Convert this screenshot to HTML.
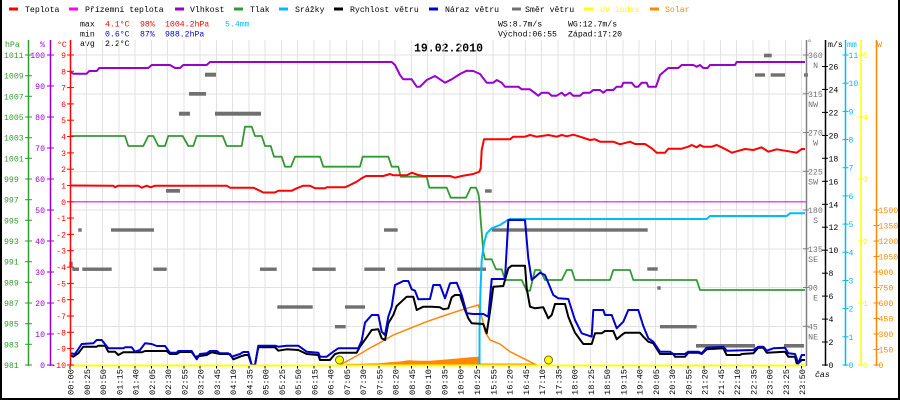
<!DOCTYPE html>
<html><head><meta charset="utf-8"><style>
html,body{margin:0;padding:0;background:#fff;}
svg{display:block;}
.t{font-family:"Liberation Mono","DejaVu Sans Mono",monospace;font-size:8.2px;}
</style></head><body>
<svg width="900" height="400" viewBox="0 0 900 400" xmlns="http://www.w3.org/2000/svg">
<rect x="0" y="0" width="900" height="400" fill="#fff"/>
<!-- border -->
<rect x="0" y="0" width="2" height="400" fill="#000"/>
<rect x="898" y="0" width="2" height="400" fill="#000"/>
<rect x="0" y="398" width="900" height="2" fill="#000"/>

<!-- legend -->
<g class="t">
<rect x="9" y="7.5" width="9" height="3" fill="#f00"/><text x="25" y="12">Teplota</text>
<rect x="69" y="7.5" width="9" height="3" fill="#f0f"/><text x="85" y="12">Přízemní teplota</text>
<rect x="175" y="7.5" width="9" height="3" fill="#9900cc"/><text x="190" y="12">Vlhkost</text>
<rect x="234" y="7.5" width="9" height="3" fill="#339933"/><text x="250" y="12">Tlak</text>
<rect x="279" y="7.5" width="9" height="3" fill="#00bbff"/><text x="295" y="12">Srážky</text>
<rect x="334" y="7.5" width="9" height="3" fill="#000"/><text x="350" y="12">Rychlost větru</text>
<rect x="429" y="7.5" width="9" height="3" fill="#0000cc"/><text x="445" y="12">Náraz větru</text>
<rect x="512" y="7.5" width="9" height="3" fill="#707070"/><text x="525" y="12">Směr větru</text>
<rect x="584" y="7.5" width="9" height="3" fill="#ffff00"/><text x="600" y="12" fill="#ffff00">UV index</text>
<rect x="650" y="7.5" width="9" height="3" fill="#ff8800"/><text x="665" y="12" fill="#ff8800">Solar</text>
</g>

<!-- stats -->
<g class="t">
<text x="80" y="26.5">max</text>
<text x="105" y="26.5" fill="#f00">4.1°C</text>
<text x="140" y="26.5" fill="#f00">98%</text>
<text x="165" y="26.5" fill="#f00">1004.2hPa</text>
<text x="225" y="26.5" fill="#00bbff">5.4mm</text>
<text x="80" y="36.5">min</text>
<text x="105" y="36.5" fill="#0000cc">0.6°C</text>
<text x="140" y="36.5" fill="#0000cc">87%</text>
<text x="165" y="36.5" fill="#0000cc">988.2hPa</text>
<text x="80" y="46">avg</text>
<text x="105" y="46">2.2°C</text>
<text x="498" y="26.5">WS:8.7m/s</text>
<text x="568" y="26.5">WG:12.7m/s</text>
<text x="498" y="36.5">Východ:06:55</text>
<text x="568" y="36.5">Západ:17:20</text>
</g>
<text x="414" y="51.5" font-family="Liberation Mono, monospace" font-size="12" font-weight="bold" textLength="69" lengthAdjust="spacingAndGlyphs">19.02.2010</text>

<!-- grid -->
<g stroke="#e2e2e2" stroke-width="1" shape-rendering="crispEdges">
<line x1="86.26" y1="40" x2="86.26" y2="365"/><line x1="102.52" y1="40" x2="102.52" y2="365"/><line x1="118.78" y1="40" x2="118.78" y2="365"/><line x1="135.04" y1="40" x2="135.04" y2="365"/><line x1="151.3" y1="40" x2="151.3" y2="365"/><line x1="167.56" y1="40" x2="167.56" y2="365"/><line x1="183.82" y1="40" x2="183.82" y2="365"/><line x1="200.08" y1="40" x2="200.08" y2="365"/><line x1="216.34" y1="40" x2="216.34" y2="365"/><line x1="232.6" y1="40" x2="232.6" y2="365"/><line x1="248.86" y1="40" x2="248.86" y2="365"/><line x1="265.12" y1="40" x2="265.12" y2="365"/><line x1="281.38" y1="40" x2="281.38" y2="365"/><line x1="297.64" y1="40" x2="297.64" y2="365"/><line x1="313.9" y1="40" x2="313.9" y2="365"/><line x1="330.16" y1="40" x2="330.16" y2="365"/><line x1="346.42" y1="40" x2="346.42" y2="365"/><line x1="362.68" y1="40" x2="362.68" y2="365"/><line x1="378.94" y1="40" x2="378.94" y2="365"/><line x1="395.2" y1="40" x2="395.2" y2="365"/><line x1="411.46" y1="40" x2="411.46" y2="365"/><line x1="427.72" y1="40" x2="427.72" y2="365"/><line x1="443.98" y1="40" x2="443.98" y2="365"/><line x1="460.24" y1="40" x2="460.24" y2="365"/><line x1="476.5" y1="40" x2="476.5" y2="365"/><line x1="492.76" y1="40" x2="492.76" y2="365"/><line x1="509.02" y1="40" x2="509.02" y2="365"/><line x1="525.28" y1="40" x2="525.28" y2="365"/><line x1="541.54" y1="40" x2="541.54" y2="365"/><line x1="557.8" y1="40" x2="557.8" y2="365"/><line x1="574.06" y1="40" x2="574.06" y2="365"/><line x1="590.32" y1="40" x2="590.32" y2="365"/><line x1="606.58" y1="40" x2="606.58" y2="365"/><line x1="622.84" y1="40" x2="622.84" y2="365"/><line x1="639.1" y1="40" x2="639.1" y2="365"/><line x1="655.36" y1="40" x2="655.36" y2="365"/><line x1="671.62" y1="40" x2="671.62" y2="365"/><line x1="687.88" y1="40" x2="687.88" y2="365"/><line x1="704.14" y1="40" x2="704.14" y2="365"/><line x1="720.4" y1="40" x2="720.4" y2="365"/><line x1="736.66" y1="40" x2="736.66" y2="365"/><line x1="752.92" y1="40" x2="752.92" y2="365"/><line x1="769.18" y1="40" x2="769.18" y2="365"/><line x1="785.44" y1="40" x2="785.44" y2="365"/><line x1="801.7" y1="40" x2="801.7" y2="365"/>
<line x1="70" y1="55" x2="806" y2="55"/><line x1="70" y1="93.75" x2="806" y2="93.75"/><line x1="70" y1="132.5" x2="806" y2="132.5"/><line x1="70" y1="171.25" x2="806" y2="171.25"/><line x1="70" y1="210" x2="806" y2="210"/><line x1="70" y1="248.75" x2="806" y2="248.75"/><line x1="70" y1="287.5" x2="806" y2="287.5"/><line x1="70" y1="326.25" x2="806" y2="326.25"/>
</g>

<!-- ground temp (magenta) -->
<line x1="70" y1="201.8" x2="806" y2="201.8" stroke="#ff00ff" stroke-width="1.2"/>

<!-- wind direction bars -->
<g fill="#707070">
<rect x="205" y="72.7" width="11" height="4"/>
<rect x="189" y="92" width="17" height="3.7"/>
<rect x="179" y="111.7" width="11" height="4"/>
<rect x="215" y="111.7" width="46" height="4"/>
<rect x="166" y="189" width="14" height="3.7"/>
<rect x="764" y="53.7" width="7.7" height="3.6"/>
<rect x="755" y="73.3" width="10" height="3.4"/>
<rect x="770.7" y="73.3" width="14.3" height="3.4"/>
<rect x="804" y="73.3" width="4" height="3.4"/>
<rect x="485" y="189.3" width="6.7" height="3.4"/>
<rect x="78.3" y="228.3" width="3.4" height="3.4"/>
<rect x="111" y="228.3" width="43" height="3.4"/>
<rect x="69.3" y="261.7" width="3.4" height="5"/>
<rect x="72.3" y="267.5" width="6.7" height="3.4"/>
<rect x="82.3" y="267.5" width="29.4" height="3.4"/>
<rect x="153.3" y="267.5" width="13.4" height="3.4"/>
<rect x="260" y="267.5" width="16.7" height="3.4"/>
<rect x="312.3" y="267.5" width="23.4" height="3.4"/>
<rect x="364.3" y="267.5" width="20.7" height="3.4"/>
<rect x="397.3" y="267.5" width="88.7" height="3.4"/>
<rect x="277.3" y="305.3" width="35.4" height="3.4"/>
<rect x="345" y="305.3" width="20" height="3.4"/>
<rect x="335" y="325" width="10.7" height="3.4"/>
<rect x="384" y="228.3" width="13.7" height="3.4"/>
<rect x="491.7" y="228.3" width="156" height="3.4"/>
<rect x="647.3" y="267.3" width="10.4" height="3.4"/>
<rect x="657.3" y="286.3" width="3.4" height="3.4"/>
<rect x="660" y="325" width="36.7" height="3.4"/>
<rect x="696" y="344" width="59" height="3.6"/>
<rect x="784" y="344" width="20" height="3.6"/>
</g>

<!-- solar fill -->
<polygon fill="#ff8800" points="343,365 346.7,364 380,363.3 386.7,362.5 400,361.5 408.3,360.3 420,360.7 430,360.7 440,360 460,358.3 470,357.3 478.3,356.7 480,356.7 480,363.5 533.3,363.5 536.7,365"/>
<!-- solar line -->
<polyline fill="none" stroke="#ff8800" stroke-width="1.5" points="340,365 350,359.5 360,354 370,348 380,342.7 393.3,335 410,328.3 426.7,321.7 440,317 463.3,309.3 478.3,305 480,310 483,322 485,331.7 490,340 500,344 510,351.7 520,356.7 530,361.7 536.7,365"/>

<!-- humidity -->
<polyline fill="none" stroke="#9900cc" stroke-width="2" stroke-linejoin="round" points="70,71.7 73.3,73.7 86.7,73.7 89.3,71 96.7,71 99.3,68 148.3,68 151.7,65 170,65 175,68 180,68 183.3,65 206.7,65 210,62 391.7,62 395,65 400,75 403.3,79.3 411.7,79.3 416.7,86.7 420,86.7 426.7,80 435,76 440,79.3 445,82.7 451.7,79.3 460,74 466.7,70.7 473.3,71 480,74 486.7,82.7 493.3,82.7 496.7,80 501.7,82.7 505,86.7 518.3,86.7 521.7,89.3 530,89.3 538.3,95.7 541.7,92.7 548.3,92.7 551.7,95.7 556.7,95.7 561.7,92.7 565,95.7 570,92.7 573.3,95.7 580,95.7 583.3,92.7 590,92.7 593.3,90 600,90 603.3,92.7 606.7,90 613.3,90 616.7,86.7 621.7,86.7 623.3,82.7 631.7,82.7 635,86.7 638.3,86.7 641.7,82.7 646.7,82.7 648.3,86.7 656,86.7 660,75 665,70.7 668.3,68 678.3,68 681.7,65 693.3,65 696.7,66.7 700,65 703.3,68 707.7,68 710,65 735,65 736.7,62 805,62"/>

<!-- pressure -->
<polyline fill="none" stroke="#339933" stroke-width="1.8" stroke-linejoin="round" points="70,136 125,136 128.3,146 143.3,146 148.3,136 153.3,136 158.3,146 165,146 168.3,136 182.7,136 188.3,146 193.3,146 196.7,136 222.7,136 226.7,146 241.7,146 245,126.7 251.7,126.7 255,136 261.7,136 265,146 270.7,146 274,156.7 281.7,156.7 285,166.7 291,166.7 295,156.7 320,156.7 323.3,166.7 360,166.7 362.7,156.7 388.3,156.7 391.7,166.7 398.3,166.7 400.7,176.7 426.7,176.7 429.3,187.7 446.7,187.7 450.7,197.7 466,197.7 470.7,187.7 476,187.7 478.3,193.3 479.3,200 480.7,220 483.3,251.7 485,259.3 491.7,259.3 496,269.3 501.7,269.3 505,280 521.7,280 526.7,290.7 530,290.7 535,270 540,270 545,280 561.7,280 566.7,270 571.7,270 575,280 610,280 613.3,270 630,270 633.3,280 696.7,280 700,290 805,290"/>

<!-- temperature -->
<polyline fill="none" stroke="#ff0000" stroke-width="2" stroke-linejoin="round" points="70,185.5 113.3,185.7 115,187.3 118.3,185.7 138.3,185.7 141.7,187.7 146.7,185.7 150.7,187.3 155,185.7 226.7,185.7 230,187.7 253.3,187.7 258.3,190 263.3,192.5 275,192.5 278.3,190.7 291.7,190.7 296.7,188.3 303.3,185.7 310,185.7 315,188.3 325,188.3 326.7,187.3 345,187.3 350,185 356.7,181.7 361.7,178.3 366,176 383.3,176 390,174 393.3,175.3 406.7,175.3 411.7,172.7 418.3,175 423.3,176 450,176 455,177.7 461.7,176 473.3,174 479.3,171.7 480.7,168.3 481.7,150 484,139.3 510,139.3 513.3,136.7 525,136.7 530,135 536.7,136.7 548.3,135 556.7,136.7 561.7,135 566.7,136.3 573.3,134.7 580,136.7 590,140 595,139.3 600,141.7 613.3,141.7 620,144.3 630,141.7 635,144 645,144 651.7,148.3 656.7,152.7 665,152.7 668.3,148.7 681.7,148.7 688.3,146.7 691.7,145 696.7,147.3 700,145 703.3,146.7 711.7,146.7 716.7,145 721.7,147.3 728.3,150.7 731.7,152.7 736.7,151.3 745,149 753.3,150 761.7,147.3 768.3,151.7 776.7,149.3 785,150.7 796.7,152.7 801.7,149 805,149"/>

<!-- precipitation -->
<polyline fill="none" stroke="#00bbff" stroke-width="2" stroke-linejoin="round" points="479.5,365 479.5,330 480.5,290 481.7,260 484,243.3 486.7,233.3 491.7,228.3 500,225 506.7,220.7 510,219 706.7,219 710,216 786.7,216 790,213.3 805,213.3"/>

<!-- wind speed -->
<polyline fill="none" stroke="#000" stroke-width="2" stroke-linejoin="round" points="70,355 73.3,356.7 78.3,353.3 83.3,346.7 96.7,346.7 98.3,345.7 105,345.7 108.3,351.7 115,351.7 118.3,355 123.3,352.3 141.7,352.3 145,351 166.7,351 170,354 176.7,354 180,352 191.7,352 195,356.7 206.7,355 211.7,352.3 220,354 230,354 233.3,359.3 240,356.7 245,355 248.3,355 251.7,365 255,365 258.3,347.3 275,347.3 278.3,350.7 286.7,349.3 298.3,350 306.7,354 318.3,355 320,360 330,360 335,354 340,352.7 356.7,352.7 360,346.7 366.7,337.3 371.7,330 378.3,329.3 381.7,338.3 385,340 388.3,323.3 393.3,315 396.7,306 406.7,296.7 413.3,296.7 416.7,310 423.3,306.7 431.7,306.7 440,307.3 443.3,309.3 448.3,308.3 451.7,297.3 455,295 460,295 465,310 468.3,318.3 471.7,323.3 483.3,324 486.7,333.3 490,311.7 493.3,286.7 503.3,286 508.3,268.3 511.7,265.7 525,265.7 526.7,288.3 530,306.7 535,308.3 543.3,307.3 548.3,318.3 551.7,315 555,304 565,304 568.3,316.7 575,332.7 583.3,344 591.7,344 595,333.3 601.7,333.3 605,331 613.3,331 616.7,339.3 621.7,335 625,332.7 640,332.7 643.3,336.7 648.3,341.7 653.3,343.3 660,354 673.3,354 675,356.7 685,356.7 688.3,352.7 698.3,352.7 701.7,354 706.7,349.3 723.3,348.3 726.7,355 740,355 741.7,354 753.3,353.3 758.3,347.7 763.3,347.7 766.7,352.7 785,351.7 788.3,356.7 795,356.7 796.7,363.3 798.3,363.3 801.7,360 805,360"/>

<!-- wind gust -->
<polyline fill="none" stroke="#0000cc" stroke-width="2" stroke-linejoin="round" points="70,353.3 75,354 81.7,344 93.3,343.3 96.7,340 101.7,340 108.3,348.3 123.3,348.3 125,347.3 131.7,347.3 135,351.7 140,350 145,343.3 151.7,344 156.7,346 165,346 170,352.7 176.7,352.7 178.3,351 191.7,351 195,356.7 196.7,359.3 200,354 206.7,353.3 210,351 216.7,351 220,353.3 228.3,353.3 231.7,356.7 240,354 243.3,352 248.3,352 251.7,365 255,365 258.3,345.7 275,345.7 278.3,346.7 286.7,345.7 298.3,345.7 306.7,351.7 318.3,352.7 320,356.7 326.7,356.7 333.3,351.7 338.3,348.3 358.3,348.3 361.7,340.7 365,322.7 371.7,315 378.3,315 381.7,331.7 385,335 388.3,316.7 391.7,306.7 395,285 400,282.7 403.3,281 408.3,281 411.7,289.3 415,290.7 418.3,299.3 430,299 433.3,285 440,285 445,298.3 450,283.3 456.7,282.7 461.7,295 466.7,313.3 473.3,314 483.3,314 488.3,316.7 491.7,279 505,279 508.3,220 525,220 528.3,258.3 531.7,280 540,272.7 545,275 553.3,295 558.3,298.3 568.3,299 575,320 581.7,333.3 591.7,336.7 593.3,310 603.3,310 605,315 611.7,315 616.7,328.3 623.3,321.7 628.3,310 638.3,310 643.3,326 648.3,338.3 653.3,341.7 660,351.7 670,351.7 673.3,354 685,354 688.3,351.7 698.3,351.7 701.7,353.3 706.7,347.7 723.3,346.7 726.7,350.7 753.3,350 758.3,346.7 763.3,346.7 766.7,350.7 773.3,348.3 785,347.7 788.3,353.3 795,354 798.3,363.3 801.7,355 805,355"/>

<!-- UV baseline -->
<line x1="70" y1="365.5" x2="806" y2="365.5" stroke="#ffff00" stroke-width="2"/>
<!-- sun markers -->
<circle cx="339.5" cy="360" r="4" fill="#ffff00" stroke="#6b6b00" stroke-width="1"/>
<circle cx="548.5" cy="360" r="4" fill="#ffff00" stroke="#6b6b00" stroke-width="1"/>

<!-- x ticks -->
<g stroke="#000" stroke-width="1" shape-rendering="crispEdges">
<line x1="70" y1="366" x2="70" y2="369"/><line x1="86.26" y1="366" x2="86.26" y2="368.5"/><line x1="102.52" y1="366" x2="102.52" y2="368.5"/><line x1="118.78" y1="366" x2="118.78" y2="368.5"/><line x1="135.04" y1="366" x2="135.04" y2="368.5"/><line x1="151.3" y1="366" x2="151.3" y2="368.5"/><line x1="167.56" y1="366" x2="167.56" y2="368.5"/><line x1="183.82" y1="366" x2="183.82" y2="368.5"/><line x1="200.08" y1="366" x2="200.08" y2="368.5"/><line x1="216.34" y1="366" x2="216.34" y2="368.5"/><line x1="232.6" y1="366" x2="232.6" y2="368.5"/><line x1="248.86" y1="366" x2="248.86" y2="368.5"/><line x1="265.12" y1="366" x2="265.12" y2="368.5"/><line x1="281.38" y1="366" x2="281.38" y2="368.5"/><line x1="297.64" y1="366" x2="297.64" y2="368.5"/><line x1="313.9" y1="366" x2="313.9" y2="368.5"/><line x1="330.16" y1="366" x2="330.16" y2="368.5"/><line x1="346.42" y1="366" x2="346.42" y2="368.5"/><line x1="362.68" y1="366" x2="362.68" y2="368.5"/><line x1="378.94" y1="366" x2="378.94" y2="368.5"/><line x1="395.2" y1="366" x2="395.2" y2="368.5"/><line x1="411.46" y1="366" x2="411.46" y2="368.5"/><line x1="427.72" y1="366" x2="427.72" y2="368.5"/><line x1="443.98" y1="366" x2="443.98" y2="368.5"/><line x1="460.24" y1="366" x2="460.24" y2="368.5"/><line x1="476.5" y1="366" x2="476.5" y2="368.5"/><line x1="492.76" y1="366" x2="492.76" y2="368.5"/><line x1="509.02" y1="366" x2="509.02" y2="368.5"/><line x1="525.28" y1="366" x2="525.28" y2="368.5"/><line x1="541.54" y1="366" x2="541.54" y2="368.5"/><line x1="557.8" y1="366" x2="557.8" y2="368.5"/><line x1="574.06" y1="366" x2="574.06" y2="368.5"/><line x1="590.32" y1="366" x2="590.32" y2="368.5"/><line x1="606.58" y1="366" x2="606.58" y2="368.5"/><line x1="622.84" y1="366" x2="622.84" y2="368.5"/><line x1="639.1" y1="366" x2="639.1" y2="368.5"/><line x1="655.36" y1="366" x2="655.36" y2="368.5"/><line x1="671.62" y1="366" x2="671.62" y2="368.5"/><line x1="687.88" y1="366" x2="687.88" y2="368.5"/><line x1="704.14" y1="366" x2="704.14" y2="368.5"/><line x1="720.4" y1="366" x2="720.4" y2="368.5"/><line x1="736.66" y1="366" x2="736.66" y2="368.5"/><line x1="752.92" y1="366" x2="752.92" y2="368.5"/><line x1="769.18" y1="366" x2="769.18" y2="368.5"/><line x1="785.44" y1="366" x2="785.44" y2="368.5"/><line x1="801.7" y1="366" x2="801.7" y2="368.5"/>
</g>

<!-- x labels -->
<g font-family="Liberation Mono, monospace" font-size="8.5" fill="#000">
<text transform="translate(73.5,395) rotate(-90)" textLength="26" lengthAdjust="spacingAndGlyphs">00:00</text>
<text transform="translate(89.76,395) rotate(-90)" textLength="26" lengthAdjust="spacingAndGlyphs">00:25</text>
<text transform="translate(106.02,395) rotate(-90)" textLength="26" lengthAdjust="spacingAndGlyphs">00:50</text>
<text transform="translate(122.28,395) rotate(-90)" textLength="26" lengthAdjust="spacingAndGlyphs">01:15</text>
<text transform="translate(138.54,395) rotate(-90)" textLength="26" lengthAdjust="spacingAndGlyphs">01:40</text>
<text transform="translate(154.8,395) rotate(-90)" textLength="26" lengthAdjust="spacingAndGlyphs">02:05</text>
<text transform="translate(171.06,395) rotate(-90)" textLength="26" lengthAdjust="spacingAndGlyphs">02:30</text>
<text transform="translate(187.32,395) rotate(-90)" textLength="26" lengthAdjust="spacingAndGlyphs">02:55</text>
<text transform="translate(203.58,395) rotate(-90)" textLength="26" lengthAdjust="spacingAndGlyphs">03:20</text>
<text transform="translate(219.84,395) rotate(-90)" textLength="26" lengthAdjust="spacingAndGlyphs">03:45</text>
<text transform="translate(236.1,395) rotate(-90)" textLength="26" lengthAdjust="spacingAndGlyphs">04:10</text>
<text transform="translate(252.36,395) rotate(-90)" textLength="26" lengthAdjust="spacingAndGlyphs">04:35</text>
<text transform="translate(268.62,395) rotate(-90)" textLength="26" lengthAdjust="spacingAndGlyphs">05:00</text>
<text transform="translate(284.88,395) rotate(-90)" textLength="26" lengthAdjust="spacingAndGlyphs">05:25</text>
<text transform="translate(301.14,395) rotate(-90)" textLength="26" lengthAdjust="spacingAndGlyphs">05:50</text>
<text transform="translate(317.4,395) rotate(-90)" textLength="26" lengthAdjust="spacingAndGlyphs">06:15</text>
<text transform="translate(333.66,395) rotate(-90)" textLength="26" lengthAdjust="spacingAndGlyphs">06:40</text>
<text transform="translate(349.92,395) rotate(-90)" textLength="26" lengthAdjust="spacingAndGlyphs">07:05</text>
<text transform="translate(366.18,395) rotate(-90)" textLength="26" lengthAdjust="spacingAndGlyphs">07:30</text>
<text transform="translate(382.44,395) rotate(-90)" textLength="26" lengthAdjust="spacingAndGlyphs">07:55</text>
<text transform="translate(398.7,395) rotate(-90)" textLength="26" lengthAdjust="spacingAndGlyphs">08:20</text>
<text transform="translate(414.96,395) rotate(-90)" textLength="26" lengthAdjust="spacingAndGlyphs">08:45</text>
<text transform="translate(431.22,395) rotate(-90)" textLength="26" lengthAdjust="spacingAndGlyphs">09:10</text>
<text transform="translate(447.48,395) rotate(-90)" textLength="26" lengthAdjust="spacingAndGlyphs">09:35</text>
<text transform="translate(463.74,395) rotate(-90)" textLength="26" lengthAdjust="spacingAndGlyphs">10:00</text>
<text transform="translate(480,395) rotate(-90)" textLength="26" lengthAdjust="spacingAndGlyphs">10:25</text>
<text transform="translate(496.26,395) rotate(-90)" textLength="26" lengthAdjust="spacingAndGlyphs">15:55</text>
<text transform="translate(512.52,395) rotate(-90)" textLength="26" lengthAdjust="spacingAndGlyphs">16:20</text>
<text transform="translate(528.78,395) rotate(-90)" textLength="26" lengthAdjust="spacingAndGlyphs">16:45</text>
<text transform="translate(545.04,395) rotate(-90)" textLength="26" lengthAdjust="spacingAndGlyphs">17:10</text>
<text transform="translate(561.3,395) rotate(-90)" textLength="26" lengthAdjust="spacingAndGlyphs">17:35</text>
<text transform="translate(577.56,395) rotate(-90)" textLength="26" lengthAdjust="spacingAndGlyphs">18:00</text>
<text transform="translate(593.82,395) rotate(-90)" textLength="26" lengthAdjust="spacingAndGlyphs">18:25</text>
<text transform="translate(610.08,395) rotate(-90)" textLength="26" lengthAdjust="spacingAndGlyphs">18:50</text>
<text transform="translate(626.34,395) rotate(-90)" textLength="26" lengthAdjust="spacingAndGlyphs">19:15</text>
<text transform="translate(642.6,395) rotate(-90)" textLength="26" lengthAdjust="spacingAndGlyphs">19:40</text>
<text transform="translate(658.86,395) rotate(-90)" textLength="26" lengthAdjust="spacingAndGlyphs">20:05</text>
<text transform="translate(675.12,395) rotate(-90)" textLength="26" lengthAdjust="spacingAndGlyphs">20:30</text>
<text transform="translate(691.38,395) rotate(-90)" textLength="26" lengthAdjust="spacingAndGlyphs">20:55</text>
<text transform="translate(707.64,395) rotate(-90)" textLength="26" lengthAdjust="spacingAndGlyphs">21:20</text>
<text transform="translate(723.9,395) rotate(-90)" textLength="26" lengthAdjust="spacingAndGlyphs">21:45</text>
<text transform="translate(740.16,395) rotate(-90)" textLength="26" lengthAdjust="spacingAndGlyphs">22:10</text>
<text transform="translate(756.42,395) rotate(-90)" textLength="26" lengthAdjust="spacingAndGlyphs">22:35</text>
<text transform="translate(772.68,395) rotate(-90)" textLength="26" lengthAdjust="spacingAndGlyphs">23:00</text>
<text transform="translate(788.94,395) rotate(-90)" textLength="26" lengthAdjust="spacingAndGlyphs">23:25</text>
<text transform="translate(805.2,395) rotate(-90)" textLength="26" lengthAdjust="spacingAndGlyphs">23:50</text>
</g>
<text x="815" y="377" class="t" font-style="italic">čas</text>

<!-- LEFT AXES -->
<!-- hPa (green) -->
<line x1="28.5" y1="40" x2="28.5" y2="366" stroke="#339933" stroke-width="1.5"/>
<text x="5" y="47" class="t" fill="#339933">hPa</text>
<g stroke="#339933" stroke-width="1">
<line x1="25" y1="55" x2="32" y2="55"/><line x1="25" y1="75.7" x2="32" y2="75.7"/><line x1="25" y1="96.3" x2="32" y2="96.3"/><line x1="25" y1="117" x2="32" y2="117"/><line x1="25" y1="137.7" x2="32" y2="137.7"/><line x1="25" y1="158.3" x2="32" y2="158.3"/><line x1="25" y1="179" x2="32" y2="179"/><line x1="25" y1="199.7" x2="32" y2="199.7"/><line x1="25" y1="220.3" x2="32" y2="220.3"/><line x1="25" y1="241" x2="32" y2="241"/><line x1="25" y1="261.7" x2="32" y2="261.7"/><line x1="25" y1="282.3" x2="32" y2="282.3"/><line x1="25" y1="303" x2="32" y2="303"/><line x1="25" y1="323.7" x2="32" y2="323.7"/><line x1="25" y1="344.3" x2="32" y2="344.3"/><line x1="25" y1="365" x2="32" y2="365"/>
</g>
<g class="t" fill="#339933">
<text x="4" y="58">1011</text><text x="4" y="78.7">1009</text><text x="4" y="99.3">1007</text><text x="4" y="120">1005</text><text x="4" y="140.7">1003</text><text x="4" y="161.3">1001</text><text x="4" y="182">999</text><text x="4" y="202.7">997</text><text x="4" y="223.3">995</text><text x="4" y="244">993</text><text x="4" y="264.7">991</text><text x="4" y="285.3">989</text><text x="4" y="306">987</text><text x="4" y="326.7">985</text><text x="4" y="347.3">983</text><text x="4" y="368">981</text>
</g>

<!-- % (purple) -->
<line x1="50.5" y1="40" x2="50.5" y2="366" stroke="#9900cc" stroke-width="1.5"/>
<text x="40" y="47" class="t" fill="#9900cc">%</text>
<g stroke="#9900cc" stroke-width="1">
<line x1="47" y1="55" x2="54" y2="55"/><line x1="47" y1="86" x2="54" y2="86"/><line x1="47" y1="117" x2="54" y2="117"/><line x1="47" y1="148" x2="54" y2="148"/><line x1="47" y1="179" x2="54" y2="179"/><line x1="47" y1="210" x2="54" y2="210"/><line x1="47" y1="241" x2="54" y2="241"/><line x1="47" y1="272" x2="54" y2="272"/><line x1="47" y1="303" x2="54" y2="303"/><line x1="47" y1="334" x2="54" y2="334"/><line x1="47" y1="365" x2="54" y2="365"/>
</g>
<g class="t" fill="#9900cc" text-anchor="end">
<text x="45" y="58">100</text><text x="45" y="89">90</text><text x="45" y="120">80</text><text x="45" y="151">70</text><text x="45" y="182">60</text><text x="45" y="213">50</text><text x="45" y="244">40</text><text x="45" y="275">30</text><text x="45" y="306">20</text><text x="45" y="337">10</text><text x="45" y="368">0</text>
</g>

<!-- °C (red) -->
<line x1="70.5" y1="40" x2="70.5" y2="366" stroke="#ff0000" stroke-width="1.5"/>
<text x="57" y="47" class="t" fill="#ff0000">°C</text>
<g stroke="#ff0000" stroke-width="1">
<line x1="67" y1="55" x2="74" y2="55"/><line x1="67" y1="71.3" x2="74" y2="71.3"/><line x1="67" y1="87.6" x2="74" y2="87.6"/><line x1="67" y1="103.9" x2="74" y2="103.9"/><line x1="67" y1="120.2" x2="74" y2="120.2"/><line x1="67" y1="136.5" x2="74" y2="136.5"/><line x1="67" y1="152.9" x2="74" y2="152.9"/><line x1="67" y1="169.2" x2="74" y2="169.2"/><line x1="67" y1="185.5" x2="74" y2="185.5"/><line x1="67" y1="201.8" x2="74" y2="201.8"/><line x1="67" y1="218.1" x2="74" y2="218.1"/><line x1="67" y1="234.4" x2="74" y2="234.4"/><line x1="67" y1="250.7" x2="74" y2="250.7"/><line x1="67" y1="267.1" x2="74" y2="267.1"/><line x1="67" y1="283.4" x2="74" y2="283.4"/><line x1="67" y1="299.7" x2="74" y2="299.7"/><line x1="67" y1="316" x2="74" y2="316"/><line x1="67" y1="332.3" x2="74" y2="332.3"/><line x1="67" y1="348.6" x2="74" y2="348.6"/><line x1="67" y1="365" x2="74" y2="365"/>
</g>
<g class="t" fill="#ff0000" text-anchor="end">
<text x="66" y="58">9</text><text x="66" y="74.3">8</text><text x="66" y="90.6">7</text><text x="66" y="106.9">6</text><text x="66" y="123.2">5</text><text x="66" y="139.5">4</text><text x="66" y="155.9">3</text><text x="66" y="172.2">2</text><text x="66" y="188.5">1</text><text x="66" y="204.8">0</text><text x="66" y="221.1">-1</text><text x="66" y="237.4">-2</text><text x="66" y="253.7">-3</text><text x="66" y="270.1">-4</text><text x="66" y="286.4">-5</text><text x="66" y="302.7">-6</text><text x="66" y="319">-7</text><text x="66" y="335.3">-8</text><text x="66" y="351.6">-9</text><text x="66" y="368">-10</text>
</g>

<!-- RIGHT AXES -->
<!-- degrees (gray) -->
<line x1="806.5" y1="40" x2="806.5" y2="366" stroke="#808080" stroke-width="1.5"/>
<text x="807" y="45" class="t" fill="#707070">°</text>
<g stroke="#808080" stroke-width="1">
<line x1="803" y1="55" x2="809" y2="55"/><line x1="803" y1="93.75" x2="809" y2="93.75"/><line x1="803" y1="132.5" x2="809" y2="132.5"/><line x1="803" y1="171.25" x2="809" y2="171.25"/><line x1="803" y1="210" x2="809" y2="210"/><line x1="803" y1="248.75" x2="809" y2="248.75"/><line x1="803" y1="287.5" x2="809" y2="287.5"/><line x1="803" y1="326.25" x2="809" y2="326.25"/>
</g>
<g class="t" fill="#707070">
<text x="808" y="58">360</text><text x="808" y="96.75">315</text><text x="808" y="135.5">270</text><text x="808" y="174.25">225</text><text x="808" y="213">180</text><text x="808" y="251.75">135</text><text x="808" y="290.5">90</text><text x="808" y="329.25">45</text>
</g>
<g class="t" fill="#707070" text-anchor="end">
<text x="818" y="68">N</text><text x="818" y="106.75">NW</text><text x="818" y="145.5">W</text><text x="818" y="184.25">SW</text><text x="818" y="223">S</text><text x="818" y="261.75">SE</text><text x="818" y="300.5">E</text><text x="818" y="339.25">NE</text>
</g>

<!-- m/s (black) -->
<line x1="825.5" y1="40" x2="825.5" y2="366" stroke="#000" stroke-width="1.5"/>
<text x="828" y="47" class="t">m/s</text>
<g stroke="#000" stroke-width="1">
<line x1="822" y1="365" x2="828" y2="365"/><line x1="822" y1="342" x2="828" y2="342"/><line x1="822" y1="319.1" x2="828" y2="319.1"/><line x1="822" y1="296.1" x2="828" y2="296.1"/><line x1="822" y1="273.2" x2="828" y2="273.2"/><line x1="822" y1="250.2" x2="828" y2="250.2"/><line x1="822" y1="227.2" x2="828" y2="227.2"/><line x1="822" y1="204.3" x2="828" y2="204.3"/><line x1="822" y1="181.3" x2="828" y2="181.3"/><line x1="822" y1="158.3" x2="828" y2="158.3"/><line x1="822" y1="135.4" x2="828" y2="135.4"/><line x1="822" y1="112.4" x2="828" y2="112.4"/><line x1="822" y1="89.4" x2="828" y2="89.4"/><line x1="822" y1="66.5" x2="828" y2="66.5"/>
</g>
<g class="t">
<text x="828.5" y="368">0</text><text x="828.5" y="345">2</text><text x="828.5" y="322.1">4</text><text x="828.5" y="299.1">6</text><text x="828.5" y="276.2">8</text><text x="828.5" y="253.2">10</text><text x="828.5" y="230.2">12</text><text x="828.5" y="207.3">14</text><text x="828.5" y="184.3">16</text><text x="828.5" y="161.3">18</text><text x="828.5" y="138.4">20</text><text x="828.5" y="115.4">22</text><text x="828.5" y="92.4">24</text><text x="828.5" y="69.5">26</text>
</g>

<!-- mm (light blue) -->
<line x1="845.5" y1="40" x2="845.5" y2="366" stroke="#00bbff" stroke-width="1.5"/>
<text x="847" y="47" class="t" fill="#00bbff">mm</text>
<g stroke="#00bbff" stroke-width="1">
<line x1="842.5" y1="365" x2="848.5" y2="365"/><line x1="842.5" y1="336.8" x2="848.5" y2="336.8"/><line x1="842.5" y1="308.6" x2="848.5" y2="308.6"/><line x1="842.5" y1="280.5" x2="848.5" y2="280.5"/><line x1="842.5" y1="252.3" x2="848.5" y2="252.3"/><line x1="842.5" y1="224.1" x2="848.5" y2="224.1"/><line x1="842.5" y1="195.9" x2="848.5" y2="195.9"/><line x1="842.5" y1="167.7" x2="848.5" y2="167.7"/><line x1="842.5" y1="139.5" x2="848.5" y2="139.5"/><line x1="842.5" y1="111.4" x2="848.5" y2="111.4"/><line x1="842.5" y1="83.2" x2="848.5" y2="83.2"/><line x1="842.5" y1="55" x2="848.5" y2="55"/>
</g>
<g class="t" fill="#00bbff">
<text x="848.5" y="368">0</text><text x="848.5" y="339.8">1</text><text x="848.5" y="311.6">2</text><text x="848.5" y="283.5">3</text><text x="848.5" y="255.3">4</text><text x="848.5" y="227.1">5</text><text x="848.5" y="198.9">6</text><text x="848.5" y="170.7">7</text><text x="848.5" y="142.5">8</text><text x="848.5" y="114.4">9</text><text x="848.5" y="86.2">10</text><text x="848.5" y="58">11</text>
</g>

<!-- UV (yellow) -->
<line x1="861" y1="40" x2="861" y2="366" stroke="#ffff00" stroke-width="1.5"/>
<g stroke="#ffff00" stroke-width="1">
<line x1="858" y1="365" x2="864" y2="365"/><line x1="858" y1="303" x2="864" y2="303"/><line x1="858" y1="241" x2="864" y2="241"/><line x1="858" y1="179" x2="864" y2="179"/><line x1="858" y1="117" x2="864" y2="117"/><line x1="858" y1="55" x2="864" y2="55"/>
</g>
<g class="t" fill="#ffff00">
<text x="863" y="368">0</text><text x="863" y="306">1</text><text x="863" y="244">2</text><text x="863" y="182">3</text><text x="863" y="120">4</text><text x="863" y="58">5</text>
</g>

<!-- W (orange) -->
<line x1="876.5" y1="40" x2="876.5" y2="366" stroke="#ff8800" stroke-width="1.5"/>
<text x="877" y="47" class="t" fill="#ff8800">W</text>
<g stroke="#ff8800" stroke-width="1">
<line x1="873.5" y1="365" x2="879.5" y2="365"/><line x1="873.5" y1="349.5" x2="879.5" y2="349.5"/><line x1="873.5" y1="334" x2="879.5" y2="334"/><line x1="873.5" y1="318.5" x2="879.5" y2="318.5"/><line x1="873.5" y1="303" x2="879.5" y2="303"/><line x1="873.5" y1="287.5" x2="879.5" y2="287.5"/><line x1="873.5" y1="272" x2="879.5" y2="272"/><line x1="873.5" y1="256.5" x2="879.5" y2="256.5"/><line x1="873.5" y1="241" x2="879.5" y2="241"/><line x1="873.5" y1="225.5" x2="879.5" y2="225.5"/><line x1="873.5" y1="210" x2="879.5" y2="210"/>
</g>
<g class="t" fill="#ff8800">
<text x="878.5" y="368">0</text><text x="878.5" y="352.5">150</text><text x="878.5" y="337">300</text><text x="878.5" y="321.5">450</text><text x="878.5" y="306">600</text><text x="878.5" y="290.5">750</text><text x="878.5" y="275">900</text><text x="878.5" y="259.5">1050</text><text x="878.5" y="244">1200</text><text x="878.5" y="228.5">1350</text><text x="878.5" y="213">1500</text>
</g>
</svg>
</body></html>
